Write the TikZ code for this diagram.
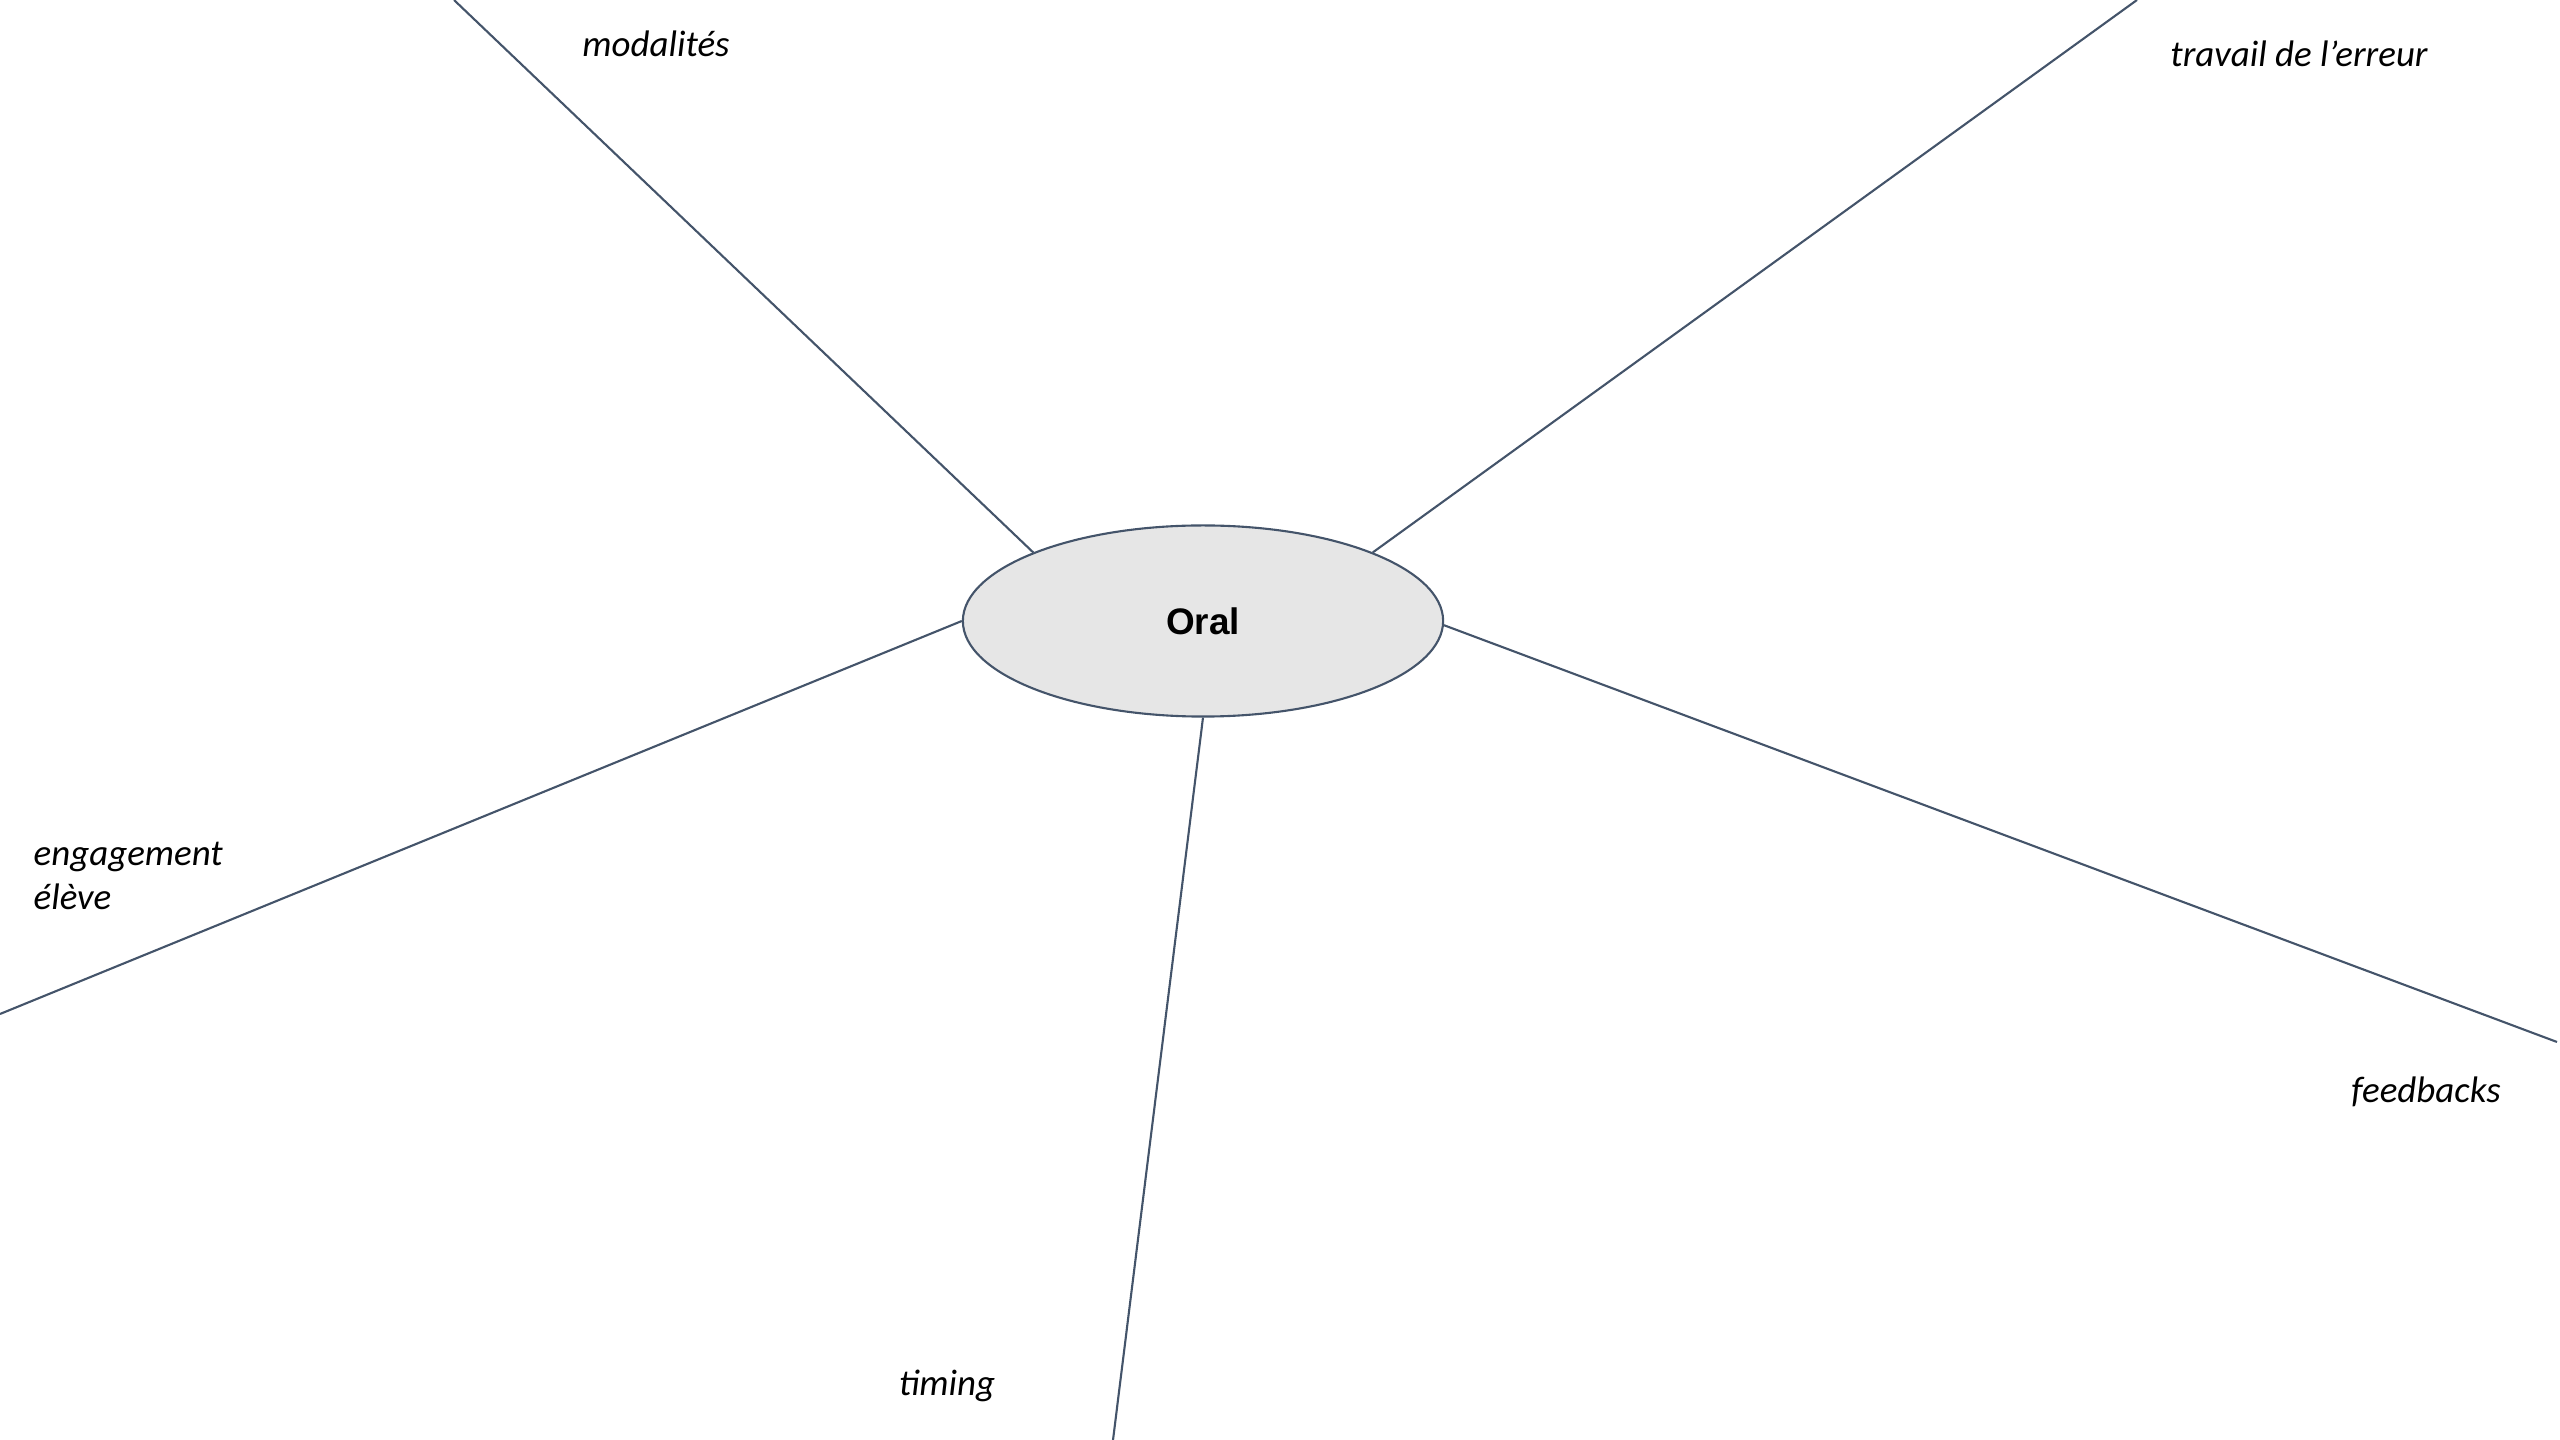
\documentclass[tikz,border=0pt]{standalone}
\usepackage{fontspec}
\setmainfont{Carlito}
\newfontfamily\arialfont{Liberation Sans}
\usetikzlibrary{shapes.geometric}

\definecolor{slate}{HTML}{44546A}
\definecolor{ovalgray}{HTML}{E6E6E6}

\begin{document}
\begin{tikzpicture}[x=0.01cm, y=-0.01cm,
		branch/.style={draw=slate, line width=0.6pt},
		tag/.style={font=\fontsize{10.5}{12.6}\selectfont\itshape, inner sep=0pt},
		hub/.style={ellipse, draw=slate, fill=ovalgray, line width=0.6pt,
			minimum width=4.8cm, minimum height=1.91cm, inner sep=0pt,
			font=\arialfont\bfseries\fontsize{10.5}{12.6}\selectfont}]
		% Page frame
		\useasboundingbox (0,0) rectangle (2560,1440);
		
		% Central oval
		\node[hub] (oral) at (1203,621) {Oral};
		
		% Outer ends of the branches
		\coordinate (modEnd) at (454,0);
		\coordinate (errEnd) at (2137,0);
		\coordinate (engEnd) at (0,1014);
		\coordinate (feedEnd) at (2557,1042);
		\coordinate (timEnd) at (1113,1440);
		
		% Branches
		\draw[branch] (oral.158) -- (modEnd);
		\draw[branch] (oral.22) -- (errEnd);
		\draw[branch] (oral.180) -- (engEnd);
		\draw[branch] (oral.-1) -- (feedEnd);
		\draw[branch] (oral.270) -- (timEnd);
		
		% Labels
		\node[tag] (mod) at (656,44) {modalités};
		\node[tag] (err) at (2299,54) {travail de l’erreur};
		\node[tag, anchor=west, align=left] (eng) at (33,876) {engagement\\élève};
		\node[tag] (feed) at (2426,1092) {feedbacks};
		\node[tag] (tim) at (947,1386) {timing};
	\end{tikzpicture}
\end{document}
